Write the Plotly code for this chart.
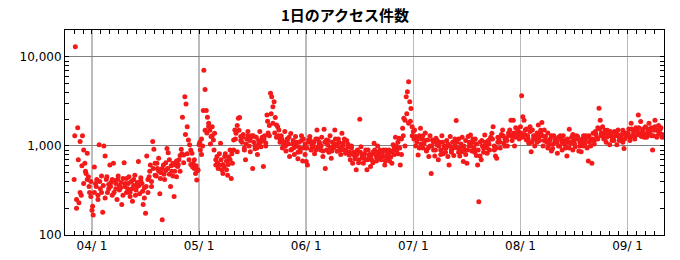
import plotly.graph_objects as go

# Day index relative to 04/1 (months drawn as 30-day blocks, as in the reference axis).
# Each day has three main samples plus two extra samples.
mar_days = list(range(-5, 0))
mar_vals = [420, 13000, 200, 1600, 230, 1120, 280, 1300, 900, 640, 490, 830, 450, 300, 400]
mar_extra = [1300, 250, 700, 300, 600, 380, 520, 420, 350, 270]

apr_days = list(range(0, 30))
apr_vals = [190, 168, 580, 380, 420, 250, 1030, 330, 460, 180, 1000, 770, 420, 300, 370,
            610, 390, 280, 640, 410, 330, 250, 460, 360, 340, 220, 430, 650, 380, 300,
            330, 450, 270, 400, 240, 360, 470, 320, 390, 670, 290, 410, 380, 220, 340,
            175, 770, 300, 450, 610, 350, 1120, 920, 640, 460, 560, 730, 290, 500, 148,
            610, 420, 530, 940, 840, 480, 350, 520, 640, 270, 610, 450, 590, 700, 520,
            920, 2100, 790, 3580, 2970, 1650, 1170, 1030, 900, 830, 640, 560, 490, 415, 540]
apr_extra = [210, 300, 350, 280, 400, 300, 360, 260, 450, 330, 350, 420, 300, 380, 420, 320,
             390, 280, 350, 430, 380, 300, 330, 420, 280, 350, 360, 440, 310, 260, 350, 420,
             520, 400, 560, 470, 640, 520, 430, 560, 480, 650, 560, 700, 600, 460, 520, 680,
             620, 780, 820, 650, 1350, 820, 700, 620, 580, 700, 600, 530]

may_days = list(range(30, 60))
may_vals = [1030, 900, 1200, 1000, 7100, 4300, 2500, 2100, 1650, 1500, 1280, 1650,
            1170, 1390, 610, 760, 560, 610, 1070, 540, 490, 590, 820, 680, 470, 750, 900,
            430, 640, 1170, 1510, 1390, 860, 2050, 2090, 1280, 1100, 1350, 950, 700, 1200, 1450,
            1000, 860, 1300, 560, 1100, 930, 1250, 800, 1050, 1450, 980, 1150, 590, 1300, 1080,
            2230, 1400, 1700, 3900, 3580, 2760, 3150, 2090, 1720, 1650, 1510, 1200, 1300, 950, 1100,
            1450, 880, 1200, 1050, 760, 1380, 920, 1150, 800, 1280, 1000, 720, 1100, 860, 1300,
            680, 950, 1050]
may_extra = [1100, 800, 2500, 1500, 1400, 1800, 1050, 1300, 900, 700, 650, 820, 700, 620,
             760, 540, 620, 700, 820, 900, 1200, 1700, 1500, 1150, 1250, 900, 1050, 1300,
             1150, 1250, 1300, 1000, 950, 1150, 1100, 1250, 1200, 1000, 1900, 1300, 2300, 1800,
             1400, 1250, 1300, 1100, 1200, 1050, 1000, 1150, 1250, 900, 1050, 960, 1100, 850,
             950, 1150, 1200, 800]

jun_days = list(range(60, 90))
jun_vals = [670, 610, 1170, 1280, 900, 1050, 1000, 820, 1200, 1510, 980, 1100, 900, 1250, 760,
            1540, 560, 1170, 1030, 850, 1300, 730, 1100, 950, 1510, 1050, 870, 1200, 980, 800,
            1390, 1070, 900, 830, 1150, 980, 790, 700, 1000, 640, 850, 760, 540, 900, 700,
            2000, 980, 730, 640, 820, 700, 540, 900, 760, 590, 700, 850, 1070, 820, 680,
            1000, 790, 900, 700, 850, 760, 610, 900, 720, 770, 680, 850, 640, 1030, 800,
            1250, 900, 1100, 1220, 610, 800, 1580, 2050, 1950, 3580, 4070, 5280, 3150, 2640, 1650]
jun_extra = [950, 1100, 1150, 980, 1100, 900, 1200, 1050, 1000, 880, 1100, 900, 1150, 960,
             880, 1000, 1200, 1000, 1100, 900, 1000, 1200, 900, 1050, 850, 950, 800, 720,
             800, 650, 850, 780, 760, 900, 700, 800, 780, 650, 900, 750, 850, 720, 800, 900,
             680, 820, 900, 750, 880, 950, 1000, 820, 950, 1200, 1300, 1000, 2300, 1800,
             1900, 1300]

jul_days = list(range(90, 120))
jul_vals = [1450, 1510, 1280, 1100, 790, 1300, 1580, 1200, 950, 1050, 1400, 880, 1170, 760, 1000,
            490, 1170, 900, 770, 1220, 1030, 700, 1100, 900, 1300, 820, 1000, 850, 1150, 760,
            610, 1280, 900, 1100, 780, 1000, 1930, 950, 1200, 770, 1050, 860, 670, 900, 1150,
            640, 1280, 1000, 1330, 880, 1100, 950, 1200, 780, 610, 237, 770, 700, 1000, 850,
            1330, 1000, 830, 1150, 900, 1200, 1390, 1650, 1000, 770, 730, 1100, 1170, 950, 1300,
            1510, 1070, 1200, 1220, 1000, 1400, 1510, 1950, 1280, 1950, 1000, 1600, 1300, 1450, 1200]
jul_extra = [1200, 1000, 1200, 950, 1050, 1300, 1150, 900, 950, 1300, 1000, 1100, 900, 1150,
             1000, 800, 1100, 950, 950, 1050, 1000, 850, 950, 1200, 1100, 850, 950, 1250,
             1000, 800, 900, 1100, 1000, 1200, 850, 1050, 900, 1100, 1150, 950, 1100, 950,
             1050, 1250, 1200, 900, 950, 1250, 1100, 1350, 1300, 1000, 1150, 1300, 1350, 1150,
             1400, 1250, 1550, 1350]

aug_days = list(range(120, 150))
aug_vals = [1650, 3660, 2130, 1950, 1510, 1170, 1300, 1070, 1450, 860, 1510, 1200, 1000, 1300, 1100,
            1720, 1150, 1380, 1840, 1000, 1510, 1280, 1100, 950, 1030, 1200, 880, 940, 1300, 1100,
            1150, 830, 1250, 1000, 1180, 900, 1300, 1050, 950, 770, 1100, 1540, 1070, 1250, 900,
            1170, 980, 1300, 1280, 880, 1100, 860, 1200, 1000, 1050, 1300, 950, 680, 1100, 1200,
            640, 1390, 1150, 1450, 1250, 1600, 2650, 1950, 1300, 1650, 1200, 1400, 1100, 1500, 1300,
            1030, 1350, 1150, 1200, 1450, 1300, 1030, 1510, 1250, 1170, 1350, 1100, 940, 1400, 1280]
aug_extra = [1400, 1250, 1350, 1550, 1200, 1650, 1100, 1300, 1200, 1400, 1250, 1500, 1300, 1150,
             1150, 1400, 1150, 1300, 1050, 1200, 1100, 1000, 1300, 1100, 1150, 1000, 1200, 950,
             1100, 1350, 1050, 1200, 1200, 1000, 1100, 1300, 1150, 1250, 1300, 1000, 1200, 1050,
             1350, 1200, 1550, 1400, 1300, 1500, 1250, 1400, 1450, 1250, 1150, 1400, 1350, 1150,
             1250, 1500, 1200, 1300]

sep_days = list(range(150, 160))
sep_vals = [1300, 1550, 1150, 1800, 1300, 1450, 1200, 1600, 1350, 2230, 1400, 1880, 1280, 1550, 1350,
            1650, 1250, 1450, 1800, 1350, 1600, 900, 1500, 1950, 1510, 1300, 1700, 1400, 1600, 1250]
sep_extra = [1400, 1250, 1550, 1350, 1300, 1500, 1600, 1300, 1450, 1250, 1350, 1550, 1450, 1300,
             1300, 1650, 1250, 1450, 1550, 1350]

tick_days = [0, 30, 60, 90, 120, 150]
tick_labels = ["04/ 1", "05/ 1", "06/ 1", "07/ 1", "08/ 1", "09/ 1"]
y_tick_vals = [100, 1000, 10000]
y_tick_labels = ["100", "1,000", "10,000"]
title_text = "1日のアクセス件数"

xs, ys = [], []
groups = [(mar_days, mar_vals, mar_extra), (apr_days, apr_vals, apr_extra),
          (may_days, may_vals, may_extra), (jun_days, jun_vals, jun_extra),
          (jul_days, jul_vals, jul_extra), (aug_days, aug_vals, aug_extra),
          (sep_days, sep_vals, sep_extra)]
for days, vals, extra in groups:
    for i, d in enumerate(days):
        for k in range(3):
            xs.append(d + k / 3.0)
            ys.append(vals[3 * i + k])
        for k in range(2):
            xs.append(d + 0.17 + k * 0.5)
            ys.append(extra[2 * i + k])

fig = go.Figure()
fig.add_trace(go.Scatter(x=xs, y=ys, mode="markers",
                         marker=dict(color="#f41a1a", size=5, line=dict(width=0)),
                         hoverinfo="skip", showlegend=False))

minor_y = [m * 10 ** e for e in (2, 3, 4) for m in range(2, 10) if m * 10 ** e < 20100]

W, H = 680, 260
fig.update_layout(
    width=W, height=H,
    margin=dict(l=65, r=16, t=30, b=25, autoexpand=False),
    paper_bgcolor="white", plot_bgcolor="white",
    title=dict(text=title_text, x=345 / W, xref="container", xanchor="center",
               y=1 - 16 / H, yref="container", yanchor="middle",
               font=dict(family="Noto Sans CJK JP", size=15, color="black", weight="bold")),
    font=dict(family="DejaVu Sans", size=12, color="black"),
    xaxis=dict(range=[-7.56, 160.2], tickmode="array", tickvals=tick_days, ticktext=tick_labels,
               showgrid=True, gridcolor="#bcbcbc", gridwidth=1.5, zeroline=False, automargin=False,
               showline=True, linecolor="black", linewidth=1, mirror="allticks",
               ticks="inside", ticklen=4, tickcolor="black",
               minor=dict(tick0=0, dtick=2.5, ticks="inside", ticklen=4, tickcolor="black",
                          showgrid=False),
               tickfont=dict(size=12)),
    yaxis=dict(type="log", range=[2, 4.303], tickmode="array", tickvals=y_tick_vals,
               ticktext=y_tick_labels, showgrid=True, gridcolor="#808080", gridwidth=1,
               zeroline=False, automargin=False, showline=True, linecolor="black", linewidth=1,
               mirror="allticks", ticks="inside", ticklen=4, tickcolor="black",
               minor=dict(tickmode="array", tickvals=minor_y, ticks="inside", ticklen=4,
                          tickcolor="black", showgrid=False),
               tickfont=dict(size=12)),
)

# Remove the browser's default 8px page margin so the figure fills the window exactly.
fig.write_html("out.html", config={"displayModeBar": False, "staticPlot": True},
               post_script="document.body.style.margin='0';")
